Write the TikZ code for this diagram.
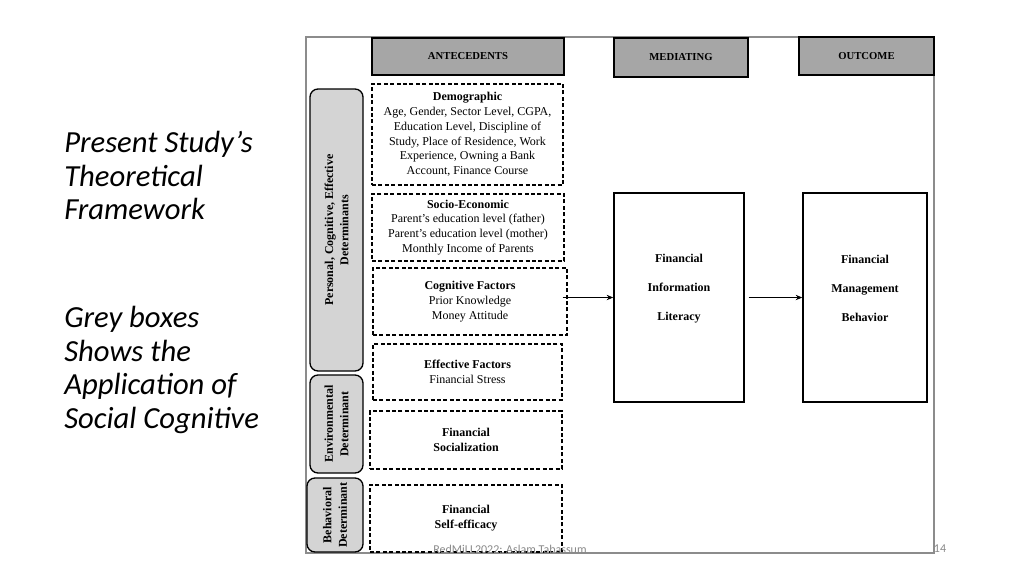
\documentclass[tikz,border=0pt]{standalone}
\usepackage{fontspec}
\setmainfont{Liberation Serif}
\newfontfamily\califont{Carlito}
\usetikzlibrary{arrows.meta}
\definecolor{hdrgrey}{HTML}{A6A6A6}
\definecolor{sidegrey}{HTML}{D4D4D4}
\definecolor{framegrey}{HTML}{8C8C8C}
\definecolor{footgrey}{HTML}{8A8A8A}
\tikzset{
  sz/.style 2 args={minimum width=#1*0.75pt, minimum height=#2*0.75pt},
  hdr/.style={draw, line width=1.1pt, fill=hdrgrey, inner sep=0pt, font=\bfseries\fontsize{8}{9}\selectfont},
  dbox/.style={draw, line width=0.8pt, dash pattern=on 3pt off 1.8pt, fill=white, inner sep=0pt, align=center, font=\fontsize{9}{11.1}\selectfont},
  side/.style={draw, line width=1pt, fill=sidegrey, rounded corners=6pt, inner sep=0pt, align=center, rotate=90, font=\bfseries\fontsize{9}{11.5}\selectfont},
  bigbox/.style={draw, line width=1pt, inner sep=0pt},
  bigtxt/.style={inner sep=0pt, align=center, font=\bfseries\fontsize{9}{21.75}\selectfont},
  arr/.style={-{Stealth[length=5pt,width=4pt]}, line width=0.9pt},
  slidetxt/.style={anchor=north west, inner sep=0pt, align=left, font=\califont\itshape\fontsize{23}{25.2}\selectfont}
}
\begin{document}
\begin{tikzpicture}[x=0.75pt, y=-0.75pt]
\useasboundingbox (0,0) rectangle (1024,576);
\fill[white] (0,0) rectangle (1024,576);
% slide text
\node[slidetxt] (t1) at (64,131) {Present Study’s\\Theoretical\\Framework};
\node[slidetxt] (t2) at (64,306) {Grey boxes\\Shows the\\Application of\\Social Cognitive};
% outer frame
\draw[framegrey, line width=0.8pt] (306,37) rectangle (934,553);
% headers
\node[hdr, sz={192}{37}] (ant) at (468,56.5) {ANTECEDENTS};
\node[hdr, sz={134}{39}] (med) at (681,57.5) {MEDIATING};
\node[hdr, sz={135}{38}] (out) at (866.5,56) {OUTCOME};
% side boxes
\node[side, sz={282}{53}] (pers) at (336.5,230) {Personal, Cognitive, Effective\\Determinants};
\node[side, sz={98}{53}] (env) at (336.5,424) {Environmental\\Determinant};
\node[side, sz={74}{56}] (beh) at (335,515) {Behavioral\\Determinant};
% dashed boxes
\node[dbox, sz={191}{101}] (demo) at (467.5,134.5) {\textbf{Demographic}\\Age, Gender, Sector Level, CGPA,\\Education Level, Discipline of\\Study, Place of Residence, Work\\Experience, Owning a Bank\\Account, Finance Course};
\node[dbox, sz={192}{67}] (socio) at (468,227.5) {\textbf{Socio-Economic}\\Parent’s education level (father)\\Parent’s education level (mother)\\Monthly Income of Parents};
\node[dbox, sz={194}{67}] (cog) at (470,301.5) {\textbf{Cognitive Factors}\\Prior Knowledge\\Money Attitude};
\node[dbox, sz={189}{56}] (eff) at (467.5,372) {\textbf{Effective Factors}\\Financial Stress};
\node[dbox, sz={192}{58}, font=\bfseries\fontsize{9}{11.1}\selectfont] (soc) at (466,440) {Financial\\Socialization};
\node[dbox, sz={192}{67}, font=\bfseries\fontsize{9}{11.1}\selectfont] (self) at (466,518.5) {Financial\\Self-efficacy};
% main boxes
\node[bigbox, sz={130}{209}] (fil) at (679,297.5) {};
\node[bigtxt] (filt) at (679,289) {Financial\\Information\\Literacy};
\node[bigbox, sz={124}{209}] (fmb) at (865,297.5) {};
\node[bigtxt] (fmbt) at (865,288) {Financial\\Management\\Behavior};
% arrows
\draw[arr] ([xshift=-5*0.75pt]cog.east |- fil.west) -- (fil.west);
\draw[arr] ([xshift=4*0.75pt]fil.east) -- (fmb.west);
% footer
\node[font=\califont\fontsize{9}{10}\selectfont, text=footgrey, inner sep=0pt] (foot) at (510,549) {RedMiLL2022: Aslam Tabassum};
\node[font=\califont\fontsize{9}{10}\selectfont, text=footgrey, inner sep=0pt] (pg) at (940,549) {14};
\end{tikzpicture}
\end{document}
